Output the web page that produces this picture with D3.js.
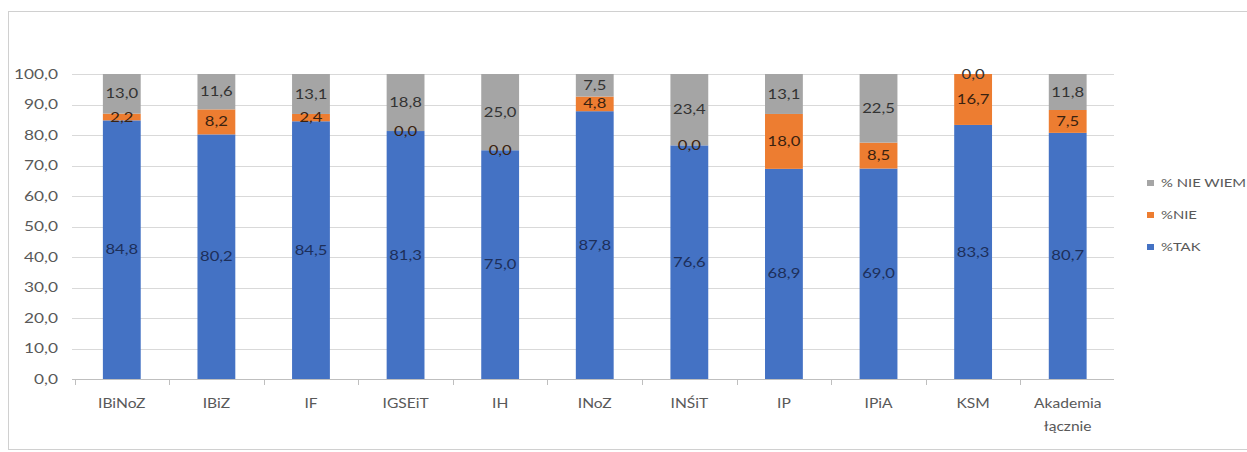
<!DOCTYPE html>
<html>
<head>
<meta charset="utf-8">
<script src="https://cdn.jsdelivr.net/npm/d3@7"></script>
<style>
  html, body { margin: 0; padding: 0; background: #fff; }
  svg { display: block; font-family: Lato, "Open Sans", sans-serif; }
</style>
</head>
<body>
<svg id="chart" width="1247" height="452"></svg>
<script>
// Units and their answer shares (%)
const categories = ["IBiNoZ", "IBiZ", "IF", "IGSEiT", "IH", "INoZ", "INŚiT", "IP", "IPiA", "KSM", "Akademia łącznie"];
const tak      = [84.8, 80.2, 84.5, 81.3, 75.0, 87.8, 76.6, 68.9, 69.0, 83.3, 80.7];
const nie      = [2.2, 8.2, 2.4, 0.0, 0.0, 4.8, 0.0, 18.0, 8.5, 16.7, 7.5];
const nieWiem  = [13.0, 11.6, 13.1, 18.8, 25.0, 7.5, 23.4, 13.1, 22.5, 0.0, 11.8];
const seriesNames = ["%TAK", "%NIE", "% NIE WIEM"];
const legendOrder = ["% NIE WIEM", "%NIE", "%TAK"];
const yTicks = [0, 10, 20, 30, 40, 50, 60, 70, 80, 90, 100];

const colors = { "%TAK": "#4472C4", "%NIE": "#ED7D31", "% NIE WIEM": "#A5A5A5" };
const labelColor = { "%TAK": "#1d2f5a", "%NIE": "#3a2210", "% NIE WIEM": "#333333" };

const rows = categories.map((c, i) => ({ cat: c, "%TAK": tak[i], "%NIE": nie[i], "% NIE WIEM": nieWiem[i] }));
const stacked = d3.stack().keys(seriesNames)(rows);

const svg = d3.select("#chart");
const W = 1247;
const plot = { left: 72, right: 1114, top: 74, bottom: 379 };
const SX = 1.28; // wide lettering

// text placed at (x, y) and widened horizontally
function wideText(g, x, y, str, opts) {
  return g.append("text")
    .attr("transform", `translate(${x},${y}) scale(${opts.sx || SX},1)`)
    .attr("text-anchor", opts.anchor || "middle")
    .attr("dy", opts.dy || "0.35em")
    .attr("font-size", opts.size || 13)
    .attr("fill", opts.fill || "#595959")
    .text(str);
}

// chart frame
svg.append("rect")
  .attr("x", 8.5).attr("y", 11.5)
  .attr("width", W - 8).attr("height", 438)
  .attr("fill", "#fff").attr("stroke", "#d0d0d0");

const x = d3.scaleBand().domain(categories).range([74.5, 1115]).paddingInner(0.6).paddingOuter(0.3);
const y = d3.scaleLinear().domain([0, 100]).range([plot.bottom, plot.top]);
const fmt = v => d3.format(".1f")(v).replace(".", ",");

// gridlines
svg.append("g")
  .selectAll("line").data(yTicks).join("line")
  .attr("x1", plot.left).attr("x2", plot.right)
  .attr("y1", d => Math.round(y(d)) + 0.5).attr("y2", d => Math.round(y(d)) + 0.5)
  .attr("stroke", "#d9d9d9").attr("stroke-width", 1);

// y tick labels
const yG = svg.append("g");
yTicks.forEach(t => wideText(yG, 58, y(t), fmt(t), { anchor: "end", size: 13.5 }));

// bars
const layers = svg.append("g").selectAll("g").data(stacked).join("g")
  .attr("fill", d => colors[d.key]);
layers.selectAll("rect").data(d => d).join("rect")
  .attr("x", d => x(d.data.cat))
  .attr("width", x.bandwidth())
  .attr("y", d => y(Math.min(100, d[1])))
  .attr("height", d => Math.max(0, y(d[0]) - y(Math.min(100, d[1]))));

// x axis line with boundary ticks
const bounds = d3.range(categories.length + 1).map(k => x.range()[0] + k * (x.range()[1] - x.range()[0]) / categories.length);
svg.append("line")
  .attr("x1", plot.left).attr("x2", plot.right)
  .attr("y1", plot.bottom + 0.5).attr("y2", plot.bottom + 0.5)
  .attr("stroke", "#bfbfbf");
svg.append("g").selectAll("line").data(bounds.slice(0, categories.length)).join("line")
  .attr("x1", d => Math.round(d) + 0.5).attr("x2", d => Math.round(d) + 0.5)
  .attr("y1", plot.bottom).attr("y2", plot.bottom + 6)
  .attr("stroke", "#bfbfbf");

// category labels
const catG = svg.append("g");
categories.forEach(c => {
  const cx = x(c) + x.bandwidth() / 2;
  c.split(" ").forEach((w, i) => wideText(catG, cx, 403 + i * 23, w, { size: 13, sx: 1.2 }));
});

// data labels
const lblG = svg.append("g");
stacked.forEach(layer => {
  layer.forEach(d => {
    const cy = (y(d[0]) + y(Math.min(100, d[1]))) / 2;
    wideText(lblG, x(d.data.cat) + x.bandwidth() / 2, cy, fmt(d.data[layer.key]),
      { size: 13, fill: labelColor[layer.key] });
  });
});

// legend
const lg = svg.append("g");
legendOrder.forEach((k, i) => {
  const ly = 183 + i * 32;
  lg.append("rect").attr("x", 1147).attr("y", ly - 3).attr("width", 7).attr("height", 6).attr("fill", colors[k]);
  wideText(lg, 1161, ly, k, { anchor: "start", size: 11, sx: 1.35 });
});
</script>
</body>
</html>
